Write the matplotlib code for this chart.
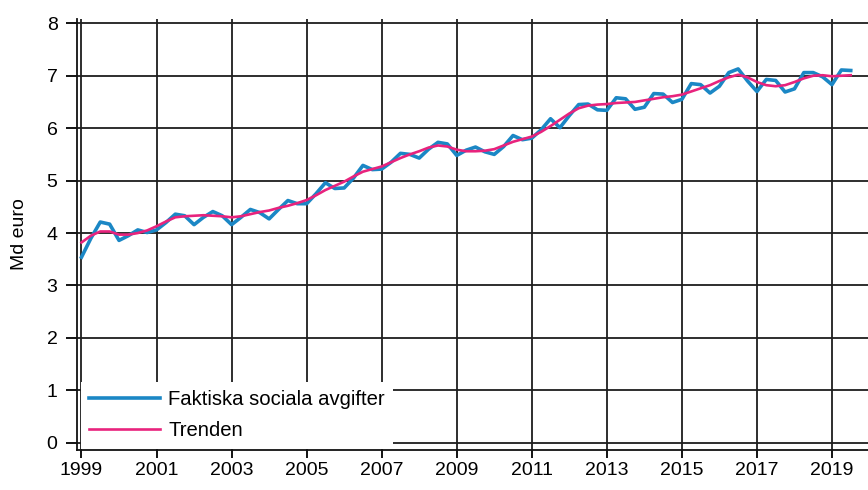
import numpy as np
import matplotlib
matplotlib.use("Agg")
import matplotlib.pyplot as plt

plt.rcParams['font.family'] = ['Liberation Sans', 'DejaVu Sans']

# kvartalsdata 1999Q1 - 2019Q3
start_year = 1999
faktiska = [3.54, 3.90, 4.21, 4.17, 3.86, 3.95, 4.06, 4.01,
            4.06, 4.20, 4.36, 4.33, 4.16, 4.30, 4.41, 4.33,
            4.16, 4.30, 4.45, 4.39, 4.27, 4.45, 4.62, 4.56,
            4.56, 4.75, 4.96, 4.85, 4.86, 5.05, 5.29, 5.21,
            5.22, 5.35, 5.52, 5.50, 5.43, 5.60, 5.73, 5.70,
            5.48, 5.58, 5.64, 5.55, 5.50, 5.65, 5.86, 5.78,
            5.81, 5.97, 6.18, 6.01, 6.24, 6.45, 6.46, 6.35,
            6.34, 6.58, 6.56, 6.36, 6.40, 6.66, 6.65, 6.49,
            6.55, 6.85, 6.83, 6.67, 6.80, 7.06, 7.13, 6.90,
            6.70, 6.93, 6.91, 6.69, 6.75, 7.06, 7.06, 6.98,
            6.83, 7.11, 7.10]
trenden = [3.82, 3.95, 4.03, 4.03, 3.97, 3.97, 4.00, 4.05,
           4.13, 4.22, 4.30, 4.32, 4.33, 4.34, 4.33, 4.32,
           4.30, 4.32, 4.36, 4.40, 4.43, 4.48, 4.52, 4.57,
           4.63, 4.72, 4.82, 4.90, 4.98, 5.08, 5.17, 5.22,
           5.27, 5.35, 5.43, 5.50, 5.56, 5.63, 5.67, 5.65,
           5.59, 5.56, 5.56, 5.57, 5.60, 5.67, 5.74, 5.79,
           5.84, 5.93, 6.04, 6.16, 6.28, 6.38, 6.43, 6.45,
           6.46, 6.48, 6.49, 6.50, 6.53, 6.56, 6.59, 6.61,
           6.64, 6.70, 6.76, 6.82, 6.90, 6.97, 7.02, 6.97,
           6.88, 6.82, 6.80, 6.82, 6.88, 6.95, 7.00, 7.01,
           6.99, 7.00, 7.01]
year_ticks = list(range(1999, 2020, 2))
y_ticks = list(range(0, 9))

t = start_year + np.arange(len(faktiska)) / 4

fig = plt.figure(figsize=(8.68, 4.9), dpi=100)
ax = fig.add_axes([0.0887, 0.082, 0.9113, 0.879])

ax.plot(t, faktiska, color='#1b87c5', lw=2.6, label='Faktiska sociala avgifter', zorder=3)
ax.plot(t, trenden, color='#e8237d', lw=1.9, label='Trenden', zorder=4)

ax.set_xlim(1998.88, 2019.96)
ax.set_ylim(-0.134, 8.08)
ax.set_xticks(year_ticks)
ax.set_yticks(y_ticks)
ax.grid(True, color='#1e1e1e', lw=1.3)
ax.set_axisbelow(True)

for s in ['top', 'right']:
    ax.spines[s].set_visible(False)
for s in ['left', 'bottom']:
    ax.spines[s].set_color('#111111')
    ax.spines[s].set_linewidth(1.3)

ax.tick_params(axis='x', length=6, width=1.3, labelsize=14, pad=3)
ax.tick_params(axis='y', length=8, width=1.3, labelsize=14, pad=6)
ax.set_ylabel('Md euro', fontsize=14, labelpad=13)

leg = ax.legend(loc='lower left', bbox_to_anchor=(0.005, 0.003), fontsize=14.6,
                frameon=True, fancybox=False, edgecolor='white', framealpha=1,
                handlelength=3.5, handletextpad=0.4, labelspacing=0.6,
                borderpad=0.4, borderaxespad=0)
leg.get_frame().set_linewidth(0)

fig.savefig('out.png', dpi=100)
